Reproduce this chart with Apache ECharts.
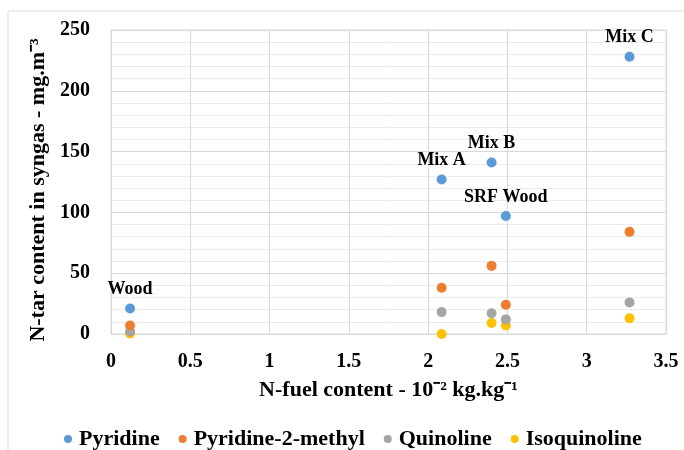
<!DOCTYPE html>
<html><head><meta charset="utf-8">
<script src="https://cdn.jsdelivr.net/npm/echarts@6/dist/echarts.min.js"></script>
<style>html,body{margin:0;padding:0;background:#fff}#c{width:684px;height:450px}</style>
</head><body><div id="c"></div>
<script>
const sampleNames = ["Wood", "Mix A", "Mix B", "SRF Wood", "Mix C"];
const nFuel = [0.12, 2.085, 2.40, 2.49, 3.27];
const pyridine = [21, 127, 141, 97, 228];
const pyridine2methyl = [7, 38, 56, 24, 84];
const quinoline = [2, 18, 17, 12, 26];
const isoquinoline = [0.5, 0, 9, 7, 13];
const seriesNames = ["Pyridine", "Pyridine-2-methyl", "Quinoline", "Isoquinoline"];
const colors = ["#5B9BD5", "#ED7D31", "#A5A5A5", "#FFC000"];
const xTicks = [0, 0.5, 1, 1.5, 2, 2.5, 3, 3.5];
const yTicks = [0, 50, 100, 150, 200, 250];

const FONT = '"Liberation Serif", "Times New Roman", serif';
const values = [pyridine, pyridine2methyl, quinoline, isoquinoline];

const series = seriesNames.map((n, si) => ({
  name: n,
  type: 'scatter',
  symbolSize: 10,
  itemStyle: { color: colors[si], opacity: 1 },
  data: nFuel.map((x, i) => [x, values[si][i], sampleNames[i]]),
  z: 10 - si,
  label: si === 0 ? {
    show: true, position: 'top', distance: 5,
    formatter: p => p.data[2],
    fontFamily: FONT, fontWeight: 'bold', fontSize: 18, color: '#000'
  } : { show: false }
}));

const chart = echarts.init(document.getElementById('c'), null, { renderer: 'canvas' });
chart.setOption({
  animation: false,
  backgroundColor: '#fff',
  graphic: [{
    type: 'rect', shape: { x: 8, y: 11, width: 700, height: 460 },
    style: { fill: 'none', stroke: '#d9d9d9', lineWidth: 1 }, silent: true, z: -1
  }, {
    type: 'rect', shape: { x: 111, y: 30, width: 555, height: 304 },
    style: { fill: 'none', stroke: '#d9d9d9', lineWidth: 1 }, silent: true, z: -1
  }],
  grid: { left: 111, right: 18, top: 30, bottom: 116, containLabel: false },
  legend: {
    top: 423, left: 59, itemGap: 19,
    icon: 'circle', itemWidth: 8, itemHeight: 8,
    data: seriesNames,
    textStyle: { fontFamily: FONT, fontWeight: 'bold', fontSize: 22, color: '#000', padding: [0, 0, 0, 2] }
  },
  xAxis: {
    type: 'value', min: xTicks[0], max: xTicks[xTicks.length - 1], interval: 0.5,
    name: 'N-fuel content - 10\u207B\u00B2 kg.kg\u207B\u00B9',
    nameLocation: 'middle', nameGap: 45,
    nameTextStyle: { fontFamily: FONT, fontWeight: 'bold', fontSize: 22, color: '#000' },
    axisLine: { show: true, lineStyle: { color: '#d9d9d9' } },
    axisTick: { show: false },
    axisLabel: { fontFamily: FONT, fontWeight: 'bold', fontSize: 20, color: '#000', margin: 18 },
    splitLine: { show: true, lineStyle: { color: '#d9d9d9' } }
  },
  yAxis: {
    type: 'value', min: yTicks[0], max: yTicks[yTicks.length - 1], interval: 50,
    name: 'N-tar content in syngas - mg.m\u207B\u00B3',
    nameLocation: 'middle', nameGap: 55, nameRotate: 90,
    nameTextStyle: { fontFamily: FONT, fontWeight: 'bold', fontSize: 22, color: '#000', padding: [0, 16, 0, 0] },
    axisLine: { show: true, lineStyle: { color: '#d9d9d9' } },
    axisTick: { show: false },
    axisLabel: { fontFamily: FONT, fontWeight: 'bold', fontSize: 20, color: '#000', margin: 21 },
    splitLine: { show: true, lineStyle: { color: '#d9d9d9' } },
    minorTick: { show: false, splitNumber: 5 },
    minorSplitLine: { show: true, lineStyle: { color: '#ececec' } }
  },
  series: series
});
</script></body></html>
